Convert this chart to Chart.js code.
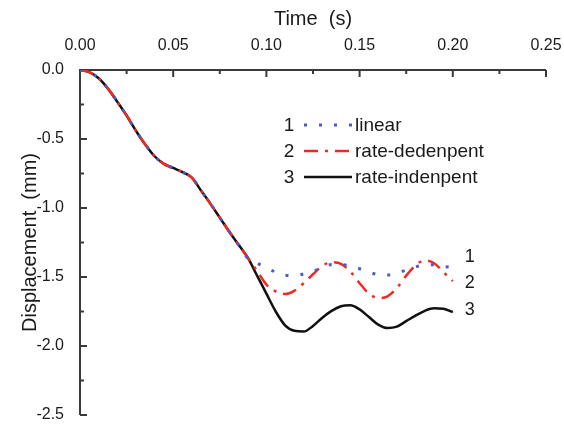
<!DOCTYPE html>
<html>
<head>
<meta charset="utf-8">
<script src="https://cdn.jsdelivr.net/npm/chart.js@4"></script>
<style>
    html, body { margin: 0; padding: 0; background: #fff; }
    #wrap { width: 564px; height: 426px; }
</style>
</head>
<body>
<div id="wrap"><canvas id="dispChart"></canvas></div>
<script>
// time, s
var timeS = [0, 0.005, 0.01, 0.015, 0.02, 0.025, 0.03, 0.035, 0.04, 0.045,
    0.05, 0.055, 0.06, 0.065, 0.07, 0.075, 0.08, 0.085, 0.09, 0.095,
    0.1, 0.105, 0.11, 0.115, 0.12, 0.125, 0.13, 0.135, 0.14, 0.145,
    0.15, 0.155, 0.16, 0.165, 0.17, 0.175, 0.18, 0.185, 0.19, 0.195, 0.2];

// 0 - 0.085 s: all three models give the same displacement, mm
var sharedMm = [0, -0.015, -0.06, -0.135, -0.23, -0.33, -0.44, -0.54, -0.625, -0.68,
    -0.71, -0.74, -0.78, -0.875, -0.97, -1.07, -1.17, -1.265];

// 0.09 - 0.20 s
var linearTailMm = [-1.365, -1.40, -1.433, -1.465, -1.487, -1.49, -1.478, -1.46, -1.43, -1.41,
    -1.41, -1.42, -1.44, -1.465, -1.482, -1.485, -1.473, -1.45, -1.427, -1.413,
    -1.412, -1.423, -1.432];
var rateDepTailMm = [-1.36, -1.456, -1.555, -1.605, -1.623, -1.60, -1.545, -1.48, -1.42, -1.392,
    -1.405, -1.46, -1.545, -1.62, -1.652, -1.64, -1.58, -1.49, -1.415, -1.38,
    -1.40, -1.465, -1.53];
var rateIndepTailMm = [-1.36, -1.49, -1.62, -1.75, -1.85, -1.89, -1.895, -1.855, -1.795, -1.745,
    -1.712, -1.705, -1.735, -1.79, -1.845, -1.87, -1.86, -1.82, -1.78, -1.745,
    -1.727, -1.73, -1.755];

var seriesNames = ['linear', 'rate-dedenpent', 'rate-indenpent'];
var seriesTags = ['1', '2', '3'];

var xTicks = [0, 0.05, 0.1, 0.15, 0.2, 0.25];
var yTicks = [0, -0.5, -1.0, -1.5, -2.0, -2.5];

var FONT = "'Liberation Sans', Arial, sans-serif";

function toPoints(values) {
    return values.map(function (v, i) {
        return { x: timeS[i], y: v };
    });
}

function makeSet(label, tail, color, dash, width) {
    return {
        label: label,
        data: toPoints(sharedMm.concat(tail)),
        borderColor: color,
        backgroundColor: color,
        borderWidth: width,
        borderDash: dash,
        pointRadius: 0,
        cubicInterpolationMode: 'monotone',
        fill: false
    };
}

// axis lines with inward ticks, like the original plot
var frame = {
    id: 'frame',
    beforeDatasetsDraw: function (chart) {
        var ctx = chart.ctx;
        var a = chart.chartArea;
        var xs = chart.scales.x, ys = chart.scales.y;
        ctx.save();
        ctx.strokeStyle = '#3a3a3a';
        ctx.lineWidth = 2;
        ctx.beginPath();
        ctx.moveTo(a.left, a.bottom);
        ctx.lineTo(a.left, a.top);
        ctx.lineTo(a.right, a.top);
        for (var i = 0; i <= 10; i++) {
            var px = xs.getPixelForValue(i * 0.025);
            ctx.moveTo(px, a.top);
            ctx.lineTo(px, a.top + (i % 2 ? 4 : 7));
        }
        for (var j = 0; j <= 10; j++) {
            var py = ys.getPixelForValue(-j * 0.25);
            ctx.moveTo(a.left, py);
            ctx.lineTo(a.left + (j % 2 ? 4 : 7), py);
        }
        ctx.stroke();
        ctx.restore();
    },
    afterDraw: function (chart) {
        var ctx = chart.ctx;
        var sets = chart.data.datasets;
        ctx.save();
        ctx.fillStyle = '#1a1a1a';
        ctx.textBaseline = 'middle';

        // legend
        var rows = [125, 151, 177];
        sets.forEach(function (ds, i) {
            var y = rows[i];
            ctx.font = '19px ' + FONT;
            ctx.textAlign = 'center';
            ctx.fillText(seriesTags[i], 289, y + 1);
            ctx.beginPath();
            ctx.setLineDash(ds.borderDash);
            ctx.strokeStyle = ds.borderColor;
            ctx.lineWidth = ds.borderWidth;
            ctx.moveTo(304, y);
            ctx.lineTo(352, y);
            ctx.stroke();
            ctx.setLineDash([]);
            ctx.textAlign = 'left';
            ctx.fillText(ds.label, 355, y + 1);
        });

        // tags next to the curve ends
        var dy = [-11, 2, -2];
        ctx.font = '18px ' + FONT;
        ctx.textAlign = 'center';
        sets.forEach(function (ds, i) {
            var meta = chart.getDatasetMeta(i);
            var last = meta.data[meta.data.length - 1];
            ctx.fillText(seriesTags[i], last.x + 17, last.y + dy[i]);
        });
        ctx.restore();
    }
};

var ctx = document.getElementById('dispChart');
var dispChart = new Chart(ctx, {
    type: 'line',
    data: {
        datasets: [
            makeSet(seriesNames[0], linearTailMm, '#4b5cc8', [3, 12], 3),
            makeSet(seriesNames[1], rateDepTailMm, '#ec2b25', [14, 7, 3, 7], 2.5),
            makeSet(seriesNames[2], rateIndepTailMm, '#111111', [], 2.5)
        ]
    },
    options: {
        responsive: true,
        maintainAspectRatio: false,
        animation: false,
        layout: { padding: { left: 0, top: 0, right: 18, bottom: 11 } },
        plugins: {
            legend: { display: false },
            tooltip: { enabled: false }
        },
        scales: {
            x: {
                type: 'linear',
                position: 'top',
                min: 0,
                max: 0.25,
                afterBuildTicks: function (s) {
                    s.ticks = xTicks.map(function (v) { return { value: v }; });
                },
                afterFit: function (s) {
                    s.height = 70;
                    s.paddingLeft = 0;
                    s.paddingRight = 0;
                },
                grid: { display: false },
                border: { display: false },
                ticks: {
                    padding: 7,
                    color: '#1a1a1a',
                    font: { family: FONT, size: 16 },
                    maxRotation: 0,
                    callback: function (v) { return v.toFixed(2); }
                },
                title: {
                    display: true,
                    text: 'Time  (s)',
                    color: '#1a1a1a',
                    font: { family: FONT, size: 20 },
                    padding: { top: 7, bottom: 0 }
                }
            },
            y: {
                type: 'linear',
                min: -2.5,
                max: 0,
                afterBuildTicks: function (s) {
                    s.ticks = yTicks.map(function (v) { return { value: v }; });
                },
                afterFit: function (s) {
                    s.width = 80;
                    s.paddingTop = 0;
                    s.paddingBottom = 0;
                },
                grid: { display: false },
                border: { display: false },
                ticks: {
                    padding: 8,
                    color: '#1a1a1a',
                    font: { family: FONT, size: 16 },
                    callback: function (v) { return v.toFixed(1); }
                },
                title: {
                    display: true,
                    text: 'Displacement  (mm)',
                    color: '#1a1a1a',
                    font: { family: FONT, size: 20 },
                    padding: { top: 18, bottom: 0 }
                }
            }
        }
    },
    plugins: [frame]
});
</script>
</body>
</html>
